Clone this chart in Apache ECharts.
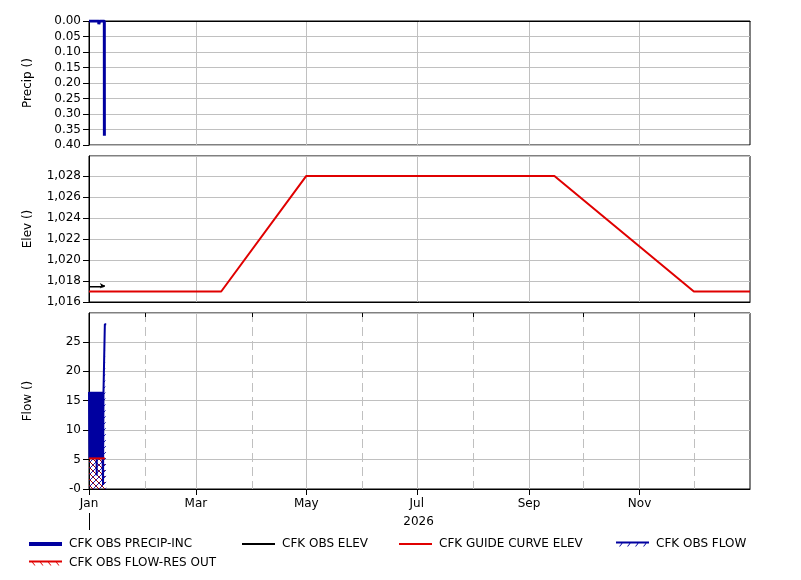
<!DOCTYPE html>
<html><head><meta charset="utf-8">
<script src="https://cdn.jsdelivr.net/npm/echarts@6/dist/echarts.min.js"></script>
<style>html,body{margin:0;padding:0;background:#fff}#c{width:801px;height:580px}</style>
</head><body><div id="c"></div>
<script>
// ---- axis categories / ticks ----
const monthNames = ['Jan','Feb','Mar','Apr','May','Jun','Jul','Aug','Sep','Oct','Nov','Dec'];
const xStart = '2026-01-01';
const xEnd = '2027-01-01';
const labeledMonths = ['2026-01-01','2026-03-01','2026-05-01','2026-07-01','2026-09-01','2026-11-01'];
const dashedMonths = ['2026-02-01','2026-04-01','2026-06-01','2026-08-01','2026-10-01','2026-12-01'];
const yearTickDates = ['2026-01-01'];
const yearLabelDates = ['2026-07-02'];
const yearText = '2026';

// ---- series data ----
const precipTimes = ['2026-01-01 00:00','2026-01-06 09:00','2026-01-06 10:00','2026-01-06 20:00','2026-01-06 21:00','2026-01-09 11:00','2026-01-09 12:00'];
const precipValues = [0, 0, 0.01, 0.01, 0, 0, 0.37];

const elevTimes = ['2026-01-01 00:00','2026-01-08 12:00','2026-01-09 18:00'];
const elevValues = [1017.45, 1017.45, 1017.55];

const guideTimes = ['2026-01-01','2026-03-15','2026-05-01','2026-09-15','2026-12-01','2027-01-01'];
const guideValues = [1017, 1017, 1028, 1028, 1017, 1017];

const flowTimes = [
 '2026-01-01 00:00','2026-01-01 06:00','2026-01-01 12:00','2026-01-01 18:00',
 '2026-01-02 00:00','2026-01-02 06:00','2026-01-02 12:00','2026-01-02 18:00',
 '2026-01-03 00:00','2026-01-03 06:00','2026-01-03 12:00','2026-01-03 18:00',
 '2026-01-04 00:00','2026-01-04 06:00','2026-01-04 12:00','2026-01-04 18:00',
 '2026-01-05 00:00','2026-01-05 06:00','2026-01-05 12:00','2026-01-05 18:00',
 '2026-01-06 00:00','2026-01-06 06:00','2026-01-06 12:00','2026-01-06 18:00',
 '2026-01-07 00:00','2026-01-07 06:00','2026-01-07 12:00','2026-01-07 18:00',
 '2026-01-08 00:00','2026-01-08 06:00','2026-01-08 12:00','2026-01-08 18:00',
 '2026-01-09 00:00','2026-01-09 06:00','2026-01-09 12:00','2026-01-09 18:00',
 '2026-01-10 12:00'];
const flowValues = [
 16.5, 5.2, 16.5, 5.2,
 16.5, 5.2, 16.5, 5.2,
 16.5, 5.2, 16.5, 5.2,
 16.5, 5.2, 16.5, 5.2,
 16.5, 2.3, 16.5, 5.2,
 16.5, 5.2, 16.5, 5.2,
 7.8, 16.5, 5.2, 16.5,
 5.2, 16.5, 5.2, 0.7,
 16.5, 16.6, 16.7, 28.0,
 28.0];

const resOutTimes = ['2026-01-01 00:00','2026-01-09 18:00'];
const resOutValues = [5.2, 5.2];

// ---- names ----
const nPrecip = 'CFK OBS PRECIP-INC';
const nElev = 'CFK OBS ELEV';
const nGuide = 'CFK GUIDE CURVE ELEV';
const nFlow = 'CFK OBS FLOW';
const nRes = 'CFK OBS FLOW-RES OUT';

// ---- helpers ----
function toMs(s) {
  const m = s.match(/^(\d+)-(\d+)-(\d+)(?:\s+(\d+):(\d+))?$/);
  return Date.UTC(+m[1], +m[2] - 1, +m[3], m[4] ? +m[4] : 0, m[5] ? +m[5] : 0);
}
const zip = (t, v) => t.map((d, i) => [toMs(d), v[i]]);
function makeHatch(color, forward) {
  const s = 6, c = document.createElement('canvas');
  c.width = s; c.height = s;
  const g = c.getContext('2d');
  g.strokeStyle = color; g.lineWidth = 1;
  g.beginPath();
  if (forward) {
    g.moveTo(0, s); g.lineTo(s, 0);
    g.moveTo(-1, 1); g.lineTo(1, -1);
    g.moveTo(s - 1, s + 1); g.lineTo(s + 1, s - 1);
  } else {
    g.moveTo(0, 0); g.lineTo(s, s);
    g.moveTo(-1, s - 1); g.lineTo(1, s + 1);
    g.moveTo(s - 1, -1); g.lineTo(s + 1, 1);
  }
  g.stroke();
  return c;
}
const BLUE = '#0000a0', RED = '#e00000', GRID = '#c0c0c0';
const FONT = 'DejaVu Sans';
const blueHatch = makeHatch('#2020b0', true);
const redHatch = makeHatch('#a00000', false);
const X0 = toMs(xStart), X1 = toMs(xEnd);

const elevData = zip(elevTimes, elevValues).map((p, i, a) =>
  i === a.length - 1 ? { value: p, symbol: 'arrow', symbolSize: [4, 5], symbolRotate: -90 } : { value: p });

function yAxisBase(grid, name) {
  return {
    type: 'value', gridIndex: grid, name: name, nameLocation: 'middle', nameGap: 55,
    nameTextStyle: { color: '#000', fontSize: 12, fontFamily: FONT },
    axisLine: { show: true, lineStyle: { color: '#000' } },
    axisTick: { show: true, length: 6, lineStyle: { color: '#000' } },
    axisLabel: { color: '#000', fontSize: 12, fontFamily: FONT, margin: 8 },
    splitLine: { show: true, lineStyle: { color: GRID, width: 1 } }
  };
}
function xAxisBase(grid) {
  return {
    type: 'value', gridIndex: grid, min: X0, max: X1,
    axisLine: { show: true, lineStyle: { color: '#000' } },
    axisTick: { show: false, customValues: labeledMonths.map(toMs) },
    axisLabel: { show: false },
    splitLine: { show: true, lineStyle: { color: GRID, width: 1 } }
  };
}
const monthFmt = v => monthNames[new Date(v).getUTCMonth()];

const legendCommon = {
  orient: 'horizontal', padding: 0, selectedMode: false, itemWidth: 33, symbolKeepAspect: false,
  itemStyle: { borderWidth: 0 },
  textStyle: { color: '#000', fontSize: 12, fontFamily: FONT, padding: [0, 0, 0, 2] }
};

const option = {
  animation: false,
  backgroundColor: '#fff',
  textStyle: { fontFamily: FONT },
  grid: [
    { left: 89, right: 51, top: 21, height: 124, show: true, borderColor: '#000', borderWidth: 1 },
    { left: 89, right: 51, top: 156, height: 146, show: true, borderColor: '#000', borderWidth: 1 },
    { left: 89, right: 51, top: 313, height: 176, show: true, borderColor: '#000', borderWidth: 1 }
  ],
  xAxis: [
    xAxisBase(0),
    xAxisBase(1),
    Object.assign(xAxisBase(2), {
      axisTick: { show: true, length: 6, customValues: labeledMonths.map(toMs), lineStyle: { color: '#000' } },
      axisLabel: { show: true, customValues: labeledMonths.map(toMs), formatter: monthFmt, color: '#000', fontSize: 12, fontFamily: FONT, margin: 9 }
    }),
    {
      type: 'value', gridIndex: 2, min: X0, max: X1,
      axisLine: { show: false },
      axisTick: { show: true, inside: true, length: 4, customValues: dashedMonths.map(toMs), lineStyle: { color: '#000' } },
      axisLabel: { show: false },
      splitLine: { show: true, lineStyle: { color: GRID, width: 1, type: [9, 5] } }
    },
    {
      type: 'value', gridIndex: 2, min: X0, max: X1, position: 'bottom', offset: 24,
      axisLine: { show: false },
      axisTick: { show: true, length: 17, customValues: yearTickDates.map(toMs), lineStyle: { color: '#000' } },
      axisLabel: { show: true, customValues: yearLabelDates.map(toMs), formatter: () => yearText, color: '#000', fontSize: 12, fontFamily: FONT, margin: 3 },
      splitLine: { show: false }
    }
  ],
  yAxis: [
    Object.assign(yAxisBase(0, 'Precip ()'), { inverse: true, min: 0, max: 0.4, interval: 0.05 }),
    Object.assign(yAxisBase(1, 'Elev ()'), { min: 1016, max: 1029.9, interval: 2 }),
    Object.assign(yAxisBase(2, 'Flow ()'), { min: 0, max: 29.9, interval: 5 })
  ],
  legend: [
    Object.assign({}, legendCommon, { data: [nPrecip], left: 29, top: 538, icon: 'rect', itemHeight: 4 }),
    Object.assign({}, legendCommon, { data: [nElev], left: 242, top: 538, icon: 'rect', itemHeight: 2 }),
    Object.assign({}, legendCommon, { data: [nGuide], left: 399, top: 538, icon: 'rect', itemHeight: 2 }),
    Object.assign({}, legendCommon, { data: [nFlow], left: 616, top: 538, itemHeight: 5,
      icon: 'path://M0,0H33V2H0Z M3,5L5.5,2H6.5L4,5Z M11,5L13.5,2H14.5L12,5Z M19,5L21.5,2H22.5L20,5Z M27,5L29.5,2H30.5L28,5Z' }),
    Object.assign({}, legendCommon, { data: [nRes], left: 29, top: 557, itemHeight: 5,
      icon: 'path://M0,0H33V2H0Z M3,2L5.5,5H6.5L4,2Z M11,2L13.5,5H14.5L12,2Z M19,2L21.5,5H22.5L20,2Z M27,2L29.5,5H30.5L28,2Z' })
  ],
  series: [
    { name: nPrecip, type: 'line', xAxisIndex: 0, yAxisIndex: 0, color: BLUE, symbol: 'none',
      lineStyle: { color: BLUE, width: 3 }, data: zip(precipTimes, precipValues) },
    { name: nGuide, type: 'line', xAxisIndex: 1, yAxisIndex: 1, color: RED, symbol: 'none',
      lineStyle: { color: RED, width: 2 }, data: zip(guideTimes, guideValues) },
    { name: nElev, type: 'line', xAxisIndex: 1, yAxisIndex: 1, color: '#000', symbol: 'none', showSymbol: true,
      itemStyle: { color: '#000' }, lineStyle: { color: '#000', width: 1.5 }, data: elevData },
    { name: nFlow, type: 'line', xAxisIndex: 2, yAxisIndex: 2, color: BLUE, symbol: 'none',
      lineStyle: { color: BLUE, width: 2 },
      areaStyle: { color: { image: blueHatch, repeat: 'repeat' }, opacity: 1 },
      data: zip(flowTimes, flowValues) },
    { name: nRes, type: 'line', xAxisIndex: 2, yAxisIndex: 2, color: RED, symbol: 'none',
      lineStyle: { color: RED, width: 2 },
      areaStyle: { color: { image: redHatch, repeat: 'repeat' }, opacity: 1 },
      data: zip(resOutTimes, resOutValues) }
  ]
};
option.yAxis[0].axisLabel.formatter = v => v.toFixed(2);
option.yAxis[1].axisLabel.formatter = v => v.toLocaleString('en-US');
option.yAxis[1].axisLabel.showMaxLabel = false;
option.yAxis[2].axisLabel.formatter = v => (v === 0 ? '-0' : String(v));
option.yAxis[2].axisLabel.showMaxLabel = false;

const chart = echarts.init(document.getElementById('c'), null, { renderer: 'canvas' });
chart.setOption(option);
</script>
</body></html>
